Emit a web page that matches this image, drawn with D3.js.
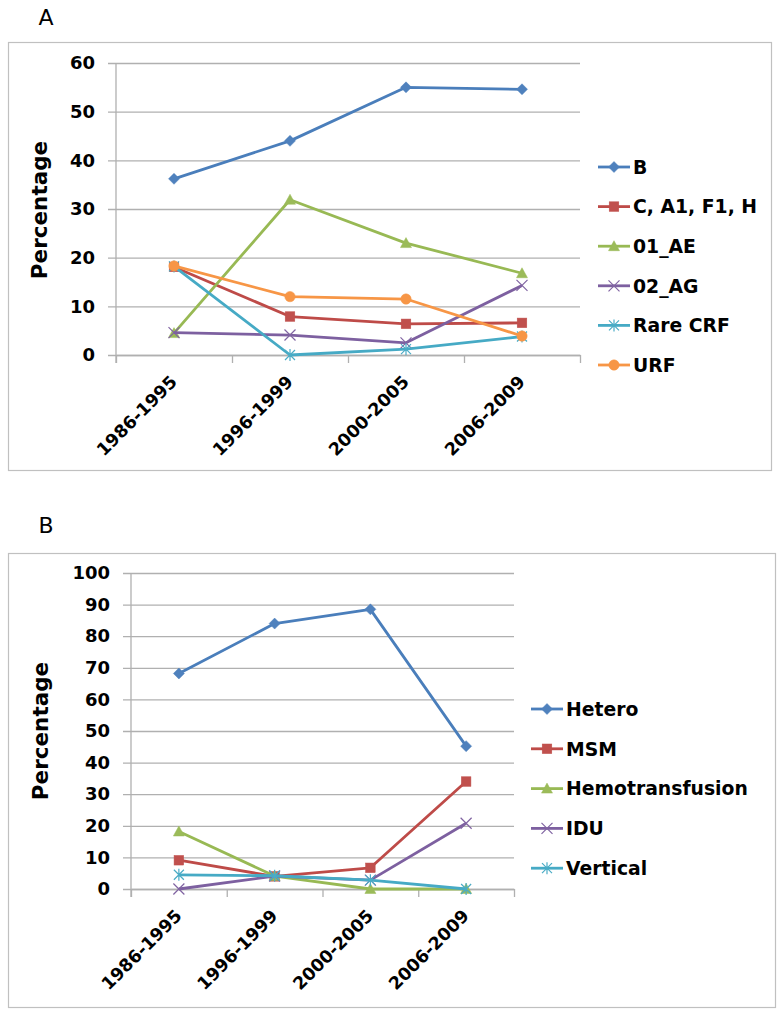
<!DOCTYPE html>
<html>
<head>
<meta charset="utf-8">
<script src="https://cdn.jsdelivr.net/npm/d3@7"></script>
<style>
  html, body { margin: 0; padding: 0; background: #ffffff; }
  svg { display: block; }
  text { font-family: "DejaVu Sans", sans-serif; }
</style>
</head>
<body>
<svg id="chart" width="782" height="1013"></svg>
<script>
// ---------- DATA ----------
const periods = ["1986-1995", "1996-1999", "2000-2005", "2006-2009"];

// Panel A: subtypes
const subtypeNames = ["B", "C, A1, F1, H", "01_AE", "02_AG", "Rare CRF", "URF"];
const subtypeB      = [36.2, 44.0, 55.0, 54.6];
const subtypeC      = [18.1, 7.9, 6.4, 6.6];
const subtype01AE   = [4.5, 31.9, 23.0, 16.8];
const subtype02AG   = [4.6, 4.1, 2.5, 14.3];
const subtypeRare   = [18.2, 0.0, 1.2, 3.8];
const subtypeURF    = [18.3, 12.0, 11.5, 3.9];
const yTicksA       = [0, 10, 20, 30, 40, 50, 60];

// Panel B: transmission routes
const routeNames    = ["Hetero", "MSM", "Hemotransfusion", "IDU", "Vertical"];
const routeHetero   = [68.2, 84.0, 88.5, 45.2];
const routeMSM      = [9.1, 4.0, 6.7, 34.0];
const routeHemo     = [18.2, 4.1, 0.0, 0.0];
const routeIDU      = [0.0, 4.1, 2.8, 20.8];
const routeVertical = [4.5, 4.2, 2.8, 0.0];
const yTicksB       = [0, 10, 20, 30, 40, 50, 60, 70, 80, 90, 100];

// ---------- STYLE ----------
const lineColors   = ["#4A7EBB", "#BE4B48", "#98B954", "#7D60A0", "#46AAC5", "#F79646"];
const markerColors = ["#4F81BD", "#C0504D", "#9BBB59", "#8064A2", "#4BACC6", "#F79646"];
const markerKinds  = ["diamond", "square", "triangle", "x", "star", "circle"];
const gridColor = "#B0B0B0";

const svg = d3.select("#chart");

function drawMarker(g, kind, cx, cy, color) {
  if (kind === "diamond") {
    g.append("path").attr("d", `M${cx},${cy-5.5}L${cx+5.5},${cy}L${cx},${cy+5.5}L${cx-5.5},${cy}Z`)
      .attr("fill", color).attr("stroke", color).attr("stroke-width", 0.5);
  } else if (kind === "square") {
    g.append("rect").attr("x", cx-4.8).attr("y", cy-4.8).attr("width", 9.6).attr("height", 9.6)
      .attr("fill", color).attr("stroke", color).attr("stroke-width", 0.5);
  } else if (kind === "triangle") {
    g.append("path").attr("d", `M${cx},${cy-5.5}L${cx+5.5},${cy+4.5}L${cx-5.5},${cy+4.5}Z`)
      .attr("fill", color).attr("stroke", color).attr("stroke-width", 0.5);
  } else if (kind === "circle") {
    g.append("circle").attr("cx", cx).attr("cy", cy).attr("r", 5.2)
      .attr("fill", color).attr("stroke", color).attr("stroke-width", 0.5);
  } else if (kind === "x") {
    g.append("path").attr("d", `M${cx-5.5},${cy-5.5}L${cx+5.5},${cy+5.5}M${cx-5.5},${cy+5.5}L${cx+5.5},${cy-5.5}`)
      .attr("fill", "none").attr("stroke", color).attr("stroke-width", 1.2);
  } else if (kind === "star") {
    g.append("path").attr("d", `M${cx-5},${cy-5}L${cx+5},${cy+5}M${cx-5},${cy+5}L${cx+5},${cy-5}M${cx},${cy-6}L${cx},${cy+6}`)
      .attr("fill", "none").attr("stroke", color).attr("stroke-width", 1.2);
  }
}

function drawPanel(cfg) {
  // panel letter
  svg.append("text").attr("x", cfg.letterX).attr("y", cfg.letterY)
    .attr("font-size", 22).attr("text-anchor", "middle").attr("fill", "#000").text(cfg.letter);
  // outer frame
  svg.append("rect").attr("x", cfg.box[0] + 0.5).attr("y", cfg.box[1] + 0.5)
    .attr("width", cfg.box[2] - cfg.box[0]).attr("height", cfg.box[3] - cfg.box[1])
    .attr("fill", "#fff").attr("stroke", "#C0C0C0").attr("stroke-width", 1.2);

  const x = d3.scaleBand().domain(periods).range([cfg.plotX, cfg.plotX + cfg.plotW]).padding(0);
  const xi = d3.scaleLinear().domain([0, periods.length]).range([cfg.plotX, cfg.plotX + cfg.plotW]);
  const y = d3.scaleLinear().domain([0, cfg.yMax]).range([cfg.yBottom, cfg.yTop]);
  const cxOf = p => x(p) + x.bandwidth() / 2;

  // gridlines (extend 8px left of axis as tick marks)
  const grid = svg.append("g").attr("transform", `translate(${cfg.plotX + cfg.plotW},0)`)
    .call(d3.axisLeft(y).tickValues(cfg.yTicks).tickSize(cfg.plotW + 8).tickFormat(""));
  grid.select(".domain").remove();
  grid.selectAll("line").attr("stroke", gridColor).attr("stroke-width", 1.3);

  // y labels
  const yl = svg.append("g").attr("transform", `translate(${cfg.plotX},0)`)
    .call(d3.axisLeft(y).tickValues(cfg.yTicks).tickSize(0).tickPadding(21).tickFormat(d3.format("d")));
  yl.select(".domain").remove();
  yl.selectAll("text").attr("font-family", "DejaVu Sans").attr("font-weight", "bold")
    .attr("font-size", 18).attr("fill", "#000");

  // y axis line
  svg.append("line").attr("x1", cfg.plotX).attr("x2", cfg.plotX)
    .attr("y1", cfg.yTop).attr("y2", cfg.yBottom + 8)
    .attr("stroke", gridColor).attr("stroke-width", 1.3);

  // x axis with boundary ticks
  const xa = svg.append("g").attr("transform", `translate(0,${cfg.yBottom})`)
    .call(d3.axisBottom(xi).tickValues(d3.range(periods.length + 1)).tickSize(8).tickSizeOuter(0).tickFormat(""));
  xa.select(".domain").attr("stroke", gridColor).attr("stroke-width", 1.3);
  xa.selectAll("line").attr("stroke", gridColor).attr("stroke-width", 1.3);

  // x labels, rotated
  const xl = svg.append("g");
  periods.forEach(p => {
    const tx = cxOf(p) + 4, ty = cfg.yBottom + 28;
    xl.append("text").attr("transform", `translate(${tx},${ty}) rotate(-45)`)
      .attr("text-anchor", "end").attr("font-weight", "bold").attr("font-size", 17.5)
      .attr("fill", "#000").text(p);
  });

  // y title
  svg.append("text").attr("transform", `translate(${cfg.titleX},${cfg.titleY}) rotate(-90)`)
    .attr("text-anchor", "middle").attr("font-weight", "bold").attr("font-size", 21.5)
    .attr("fill", "#000").text("Percentage");

  // series
  const line = d3.line().x((d, i) => cxOf(periods[i])).y(d => y(d));
  cfg.series.forEach((vals, si) => {
    const g = svg.append("g");
    g.append("path").datum(vals).attr("d", line).attr("fill", "none")
      .attr("stroke", lineColors[si]).attr("stroke-width", 2.8).attr("stroke-linejoin", "round");
    vals.forEach((v, i) => drawMarker(g, markerKinds[si], cxOf(periods[i]), y(v), markerColors[si]));
  });

  // legend
  cfg.names.forEach((n, si) => {
    const ly = cfg.legendY + si * cfg.legendStep;
    const g = svg.append("g");
    g.append("line").attr("x1", cfg.legendX).attr("x2", cfg.legendX + 32)
      .attr("y1", ly).attr("y2", ly).attr("stroke", lineColors[si]).attr("stroke-width", 2.8);
    drawMarker(g, markerKinds[si], cfg.legendX + 16, ly, markerColors[si]);
    g.append("text").attr("x", cfg.legendX + 35).attr("y", ly).attr("dy", "0.36em")
      .attr("font-weight", "bold").attr("font-size", 18.8).attr("fill", "#000").text(n);
  });
}

drawPanel({
  letter: "A", letterX: 46, letterY: 25,
  box: [8, 42, 771, 470],
  plotX: 116, plotW: 464, yTop: 63, yBottom: 355, yMax: 60, yTicks: yTicksA,
  titleX: 47, titleY: 210,
  series: [subtypeB, subtypeC, subtype01AE, subtype02AG, subtypeRare, subtypeURF],
  names: subtypeNames,
  legendX: 598, legendY: 167, legendStep: 39.6
});

drawPanel({
  letter: "B", letterX: 46, letterY: 533,
  box: [8, 553, 775, 1007],
  plotX: 131, plotW: 383, yTop: 573, yBottom: 889, yMax: 100, yTicks: yTicksB,
  titleX: 48, titleY: 731,
  series: [routeHetero, routeMSM, routeHemo, routeIDU, routeVertical],
  names: routeNames,
  legendX: 531, legendY: 709, legendStep: 39.8
});
</script>
</body>
</html>
